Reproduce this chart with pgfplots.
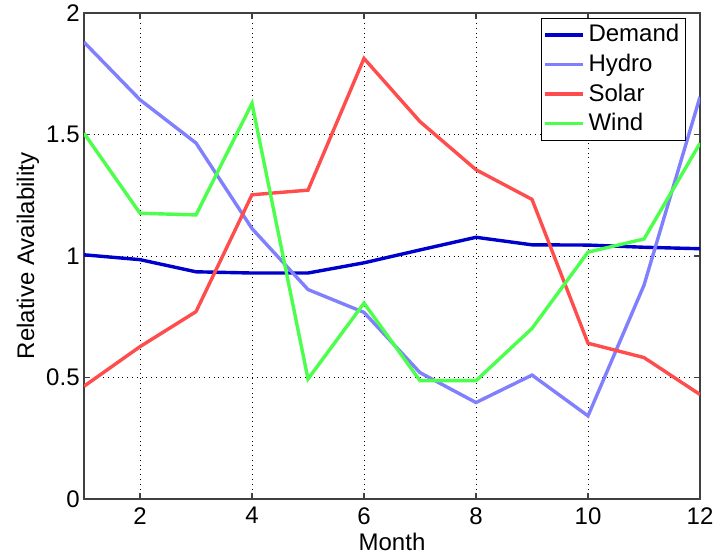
\documentclass[border=0pt]{standalone}
\usepackage{pgfplots}
\pgfplotsset{compat=1.18}
\usepackage{fontspec}
\setmainfont{Liberation Sans}

\definecolor{demandc}{rgb}{0,0,0.8}
\definecolor{hydroc}{rgb}{0.5,0.5,1}
\definecolor{solarc}{rgb}{1,0.3,0.3}
\definecolor{windc}{rgb}{0.3,1,0.3}

\begin{document}
\fontsize{12}{14.4}\selectfont
\begin{tikzpicture}
\begin{axis}[
    name=main,
    scale only axis,
    width=308pt, height=243pt,
    xmin=1, xmax=12,
    ymin=0, ymax=2,
    xtick={2,4,6,8,10,12},
    ytick={0,0.5,1,1.5,2},
    /pgf/number format/assume math mode=true,
    tick label style={font=\fontsize{12}{14.4}\selectfont},
    yticklabel style={xshift=2pt},
    label style={font=\fontsize{12}{14.4}\selectfont},
    xlabel={Month},
    ylabel={Relative Availability},
    xlabel style={at={(axis description cs:0.5,0)}, anchor=center, yshift=-21.5pt},
    ylabel style={at={(axis description cs:-0.0909,0.5)}, anchor=center},
    tick align=inside,
    major tick length=3pt,
    axis line style={black!75, line width=0.6pt},
    every tick/.style={black!75, line width=0.6pt},
    grid=major,
    grid style={black, dotted, line width=0.5pt},
    legend style={
        at={(0.977,0.99)}, anchor=north east,
        font=\fontsize{12}{14.4}\selectfont,
        draw=black, line width=0.6pt,
        inner sep=1pt, row sep=0.3pt,
        cells={anchor=west},
    },
    legend image code/.code={
        \draw[#1] (0cm,0cm) -- (19pt,0cm);
    },
    every axis plot/.append style={line width=1.7pt},
]
\addplot[demandc] coordinates {
    (1,1.005) (2,0.985) (3,0.935) (4,0.930) (5,0.930) (6,0.972)
    (7,1.025) (8,1.077) (9,1.046) (10,1.045) (11,1.036) (12,1.030)
};
\addlegendentry{Demand}
\addplot[hydroc] coordinates {
    (1,1.880) (2,1.643) (3,1.465) (4,1.113) (5,0.862) (6,0.768)
    (7,0.520) (8,0.397) (9,0.510) (10,0.342) (11,0.880) (12,1.655)
};
\addlegendentry{Hydro}
\addplot[solarc] coordinates {
    (1,0.464) (2,0.627) (3,0.771) (4,1.252) (5,1.271) (6,1.813)
    (7,1.553) (8,1.355) (9,1.233) (10,0.641) (11,0.582) (12,0.430)
};
\addlegendentry{Solar}
\addplot[windc] coordinates {
    (1,1.505) (2,1.176) (3,1.169) (4,1.628) (5,0.494) (6,0.806)
    (7,0.487) (8,0.487) (9,0.702) (10,1.016) (11,1.070) (12,1.464)
};
\addlegendentry{Wind}
\end{axis}
\pgfresetboundingbox
\path (main.south west) ++(-42pt,-27pt) rectangle ([xshift=7.5pt,yshift=6.5pt]main.north east);
\end{tikzpicture}
\end{document}
